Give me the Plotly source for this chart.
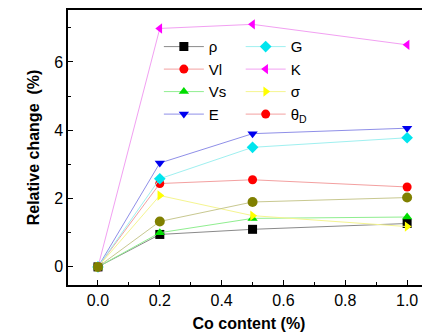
import plotly.graph_objects as go

co = [0.0, 0.2, 0.5, 1.0]
rho = [0.0, 0.95, 1.10, 1.27]
G = [0.0, 2.58, 3.50, 3.78]
Vl = [0.0, 2.44, 2.55, 2.34]
K = [0.0, 6.98, 7.10, 6.50]
Vs = [0.0, 1.00, 1.42, 1.46]
sigma = [0.0, 2.09, 1.50, 1.18]
E = [0.0, 3.04, 3.90, 4.06]
thetaD = [0.0, 1.33, 1.90, 2.03]

series = [
    # name, data, marker symbol, marker colour, line colour, legend
    ("ρ", rho, "square", "black", "#8a8a8a", "legend"),
    ("Vl", Vl, "circle", "red", "#f3a0a0", "legend"),
    ("Vs", Vs, "triangle-up", "#00dd00", "#90ee90", "legend"),
    ("E", E, "triangle-down", "#0000ee", "#8f8fe8", "legend"),
    ("G", G, "diamond", "#00e5ee", "#9ff0f0", "legend2"),
    ("K", K, "triangle-left", "#ff00ff", "#f2a0f2", "legend2"),
    ("σ", sigma, "triangle-right", "#ffff00", "#f5f590", "legend2"),
]

fig = go.Figure()
for name, ys, sym, mc, lc, lg in series:
    fig.add_trace(go.Scatter(
        x=co, y=ys, name=name, mode="lines+markers",
        line=dict(color=lc, width=1),
        marker=dict(symbol=sym, color=mc, size=9, line=dict(width=0)),
        legend=lg,
    ))

# theta_D: drawn olive in the plot, shown red in the legend (as in the original)
fig.add_trace(go.Scatter(
    x=co, y=thetaD, name="θ<sub>D</sub>", mode="lines+markers",
    line=dict(color="#c8c890", width=1),
    marker=dict(symbol="circle", color="#808000", size=10, line=dict(width=0)),
    showlegend=False,
))
fig.add_trace(go.Scatter(
    x=[None], y=[None], name="θ<sub>D</sub>", mode="lines+markers",
    line=dict(color="#f3a0a0", width=1),
    marker=dict(symbol="circle", color="red", size=9),
    legend="legend2",
))

font = "Liberation Sans, Arial, sans-serif"
legend_common = dict(
    bgcolor="rgba(0,0,0,0)", borderwidth=0,
    font=dict(family=font, size=15, color="black"),
    tracegroupgap=0, itemwidth=40, yanchor="top", xanchor="left",
)

fig.update_layout(
    width=422, height=325,
    margin=dict(l=60, r=0, t=2, b=48),
    paper_bgcolor="white", plot_bgcolor="white",
    font=dict(family=font, size=16, color="black"),
    legend=dict(x=0.251, y=0.926, **legend_common),
    legend2=dict(x=0.477, y=0.926, **legend_common),
    xaxis=dict(
        range=[-0.097, 1.074], tickmode="array",
        tickvals=[0.0, 0.2, 0.4, 0.6, 0.8, 1.0],
        ticktext=["0.0", "0.2", "0.4", "0.6", "0.8", "1.0"],
        ticks="inside", ticklen=5, tickwidth=1, tickcolor="black",
        minor=dict(dtick=0.1, tick0=0, ticks="inside", ticklen=3, tickcolor="black"),
        showline=True, linecolor="black", linewidth=1.5, mirror=True,
        showgrid=False, zeroline=False,
        title=dict(text="<b>Co content (%)</b>", font=dict(size=16), standoff=10),
        tickfont=dict(size=16),
    ),
    yaxis=dict(
        range=[-0.53, 7.52], tickmode="array",
        tickvals=[0, 2, 4, 6], ticktext=["0", "2", "4", "6"],
        ticks="inside", ticklen=5, tickwidth=1, tickcolor="black",
        minor=dict(dtick=1, tick0=0, ticks="inside", ticklen=3, tickcolor="black"),
        showline=True, linecolor="black", linewidth=1.5, mirror=False,
        showgrid=False, zeroline=False,
        title=dict(text="<b>Relative change  (%)</b>", font=dict(size=16), standoff=11),
        tickfont=dict(size=16),
    ),
)

fig.write_html("out.html")
